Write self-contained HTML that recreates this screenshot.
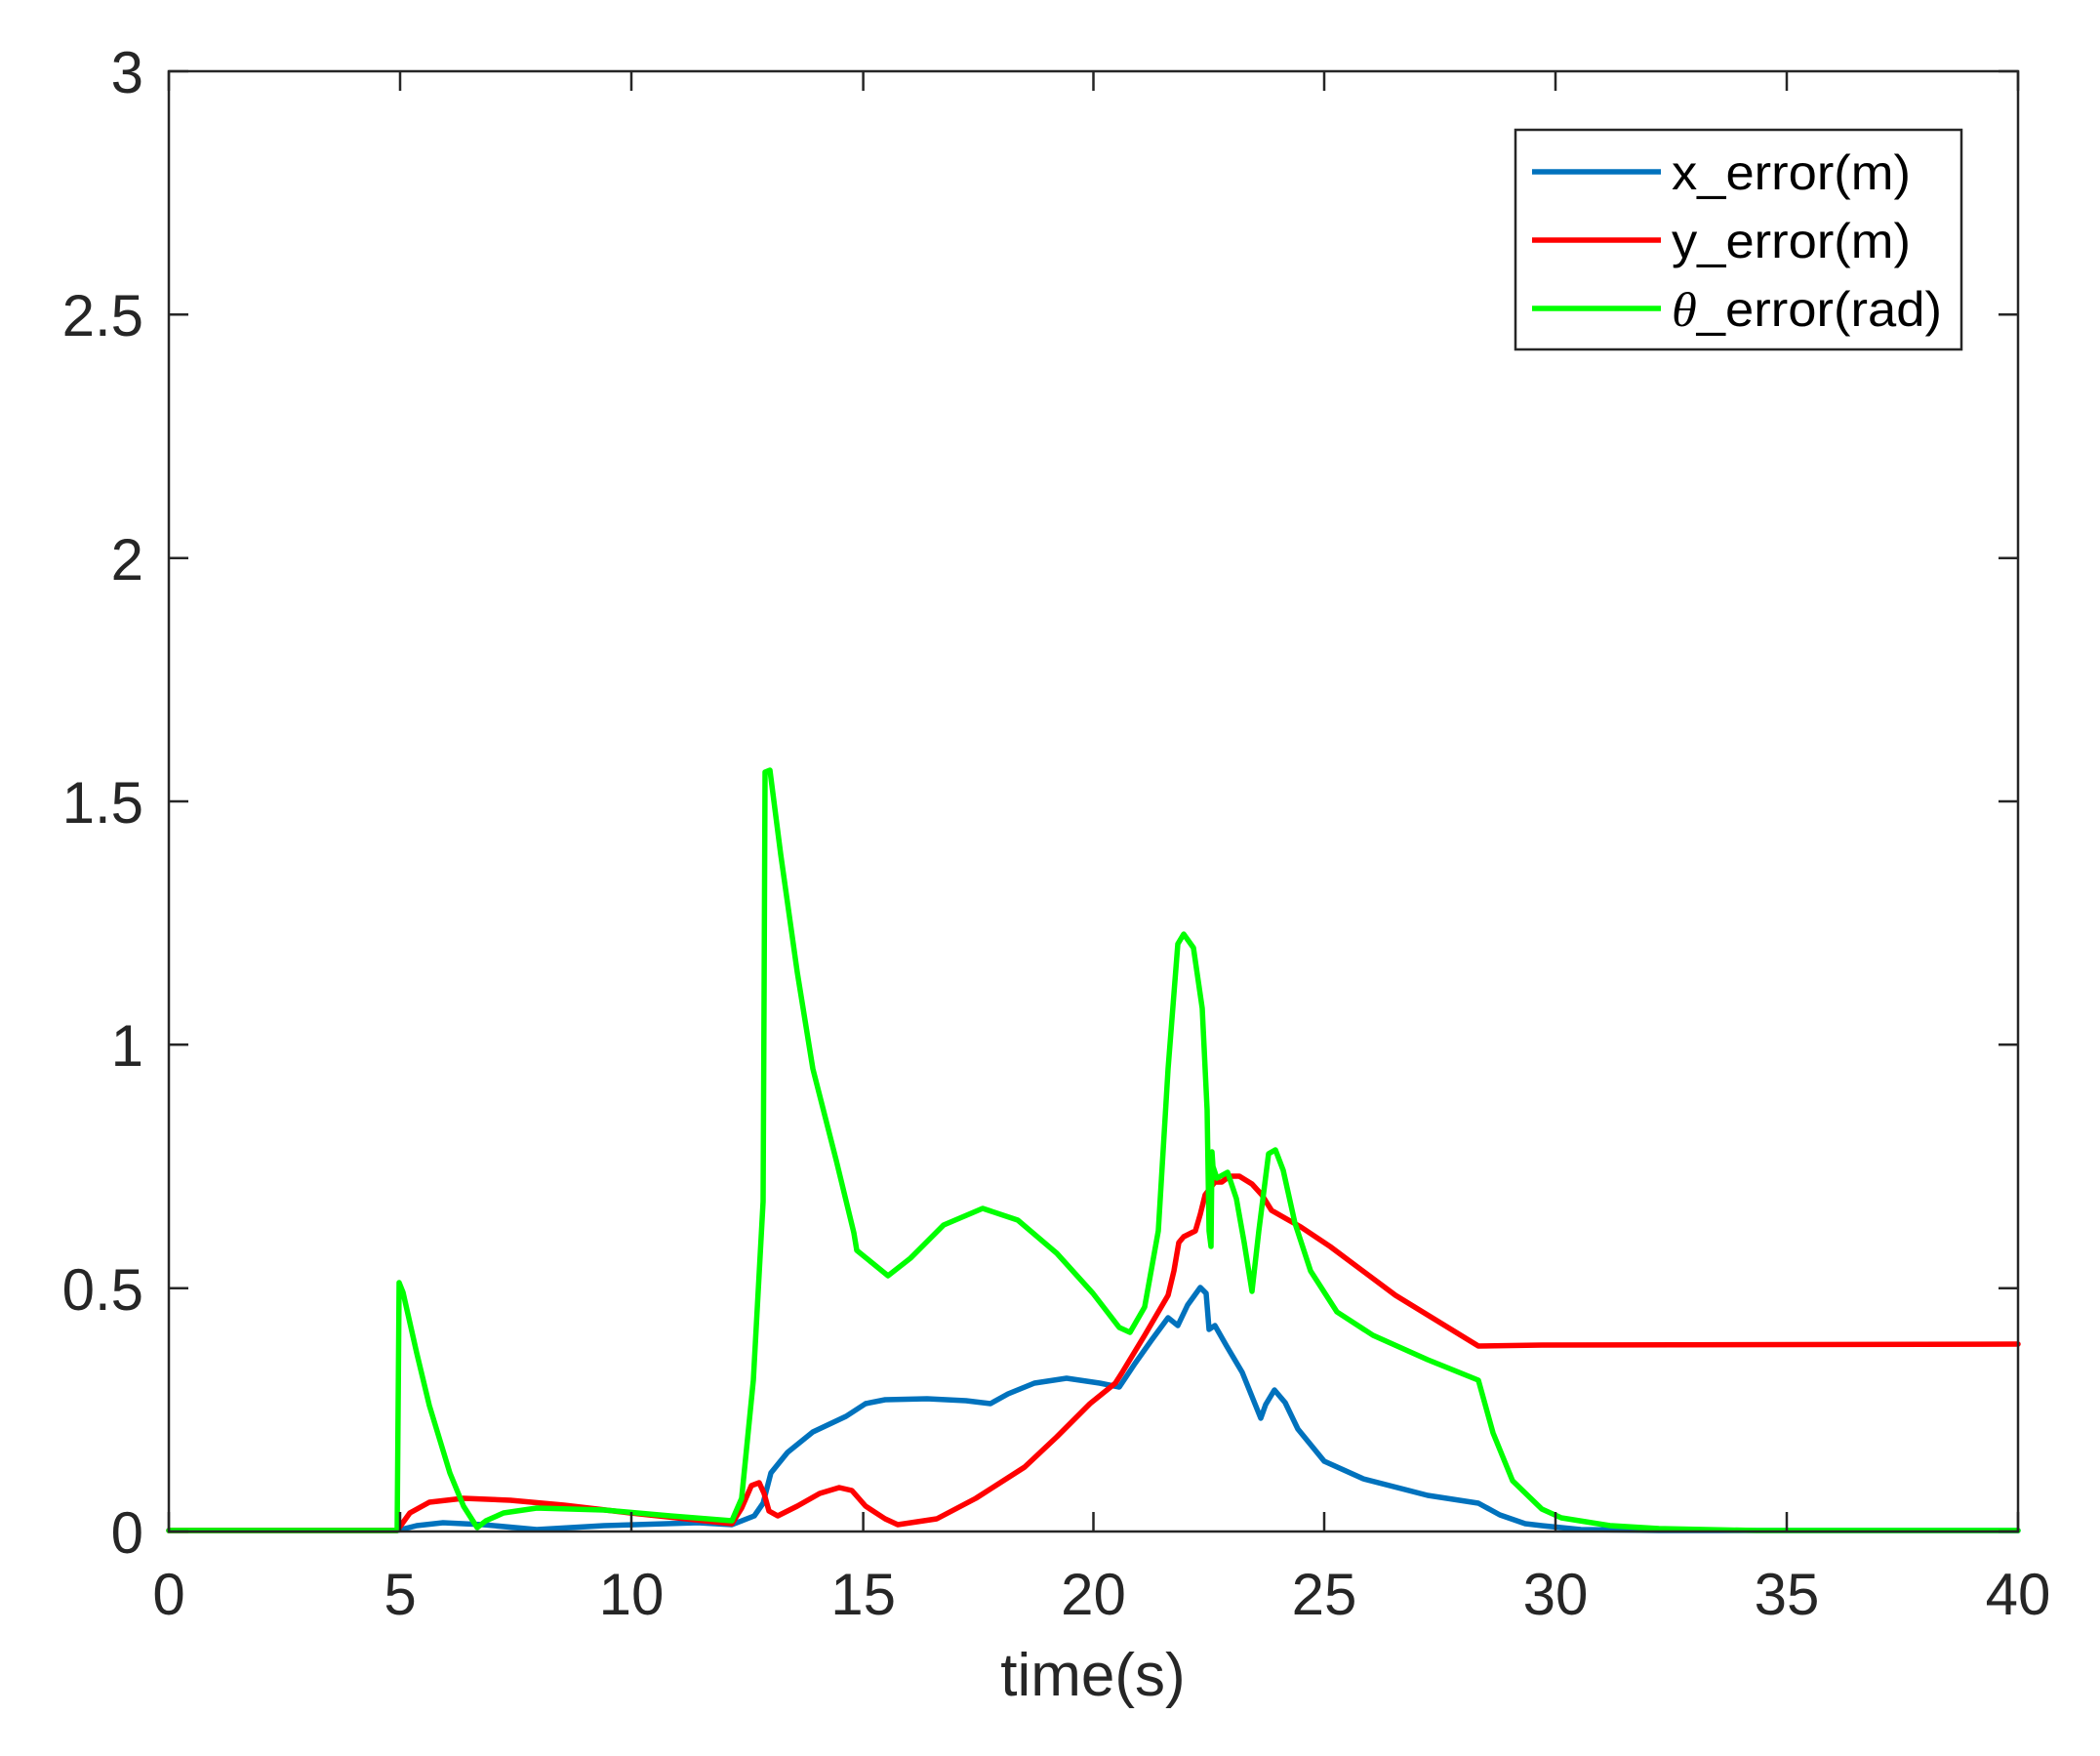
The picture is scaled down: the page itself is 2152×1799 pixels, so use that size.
<!DOCTYPE html>
<html><head><meta charset="utf-8"><style>
html,body{margin:0;padding:0;background:#fff;}
svg{display:block;}
text{font-family:"Liberation Sans",Arial,sans-serif;fill:#262626;}
</style></head><body>
<svg width="2152" height="1799" viewBox="0 0 2152 1799" xmlns="http://www.w3.org/2000/svg">
<rect x="0" y="0" width="2152" height="1799" fill="#fff"/>
<g fill="none" stroke-width="5.5" stroke-linejoin="round" stroke-linecap="round">
<polyline stroke="#0072BD" points="173,1568 407,1568 427,1563 454,1560 495,1562 550,1567 619,1563 715,1560 750,1562 773,1553 782,1540 790,1509 807,1488 833,1467 867,1451 887,1438 907,1434 950,1433 990,1435 1015,1438 1033,1428 1060,1417 1093,1412 1127,1417 1147,1421 1163,1397 1180,1373 1197,1350 1207,1358 1217,1337 1230,1319 1236,1325 1239,1362 1245,1358 1257,1379 1273,1406 1292,1453 1297,1439 1306,1424 1317,1437 1330,1464 1357,1497 1397,1515 1463,1532 1515,1540 1537,1552 1563,1561 1580,1563 1620,1567 1700,1568 2068,1568"/>
<polyline stroke="#FF0000" points="173,1568 407,1568 420,1550 440,1539 475,1535 523,1537 578,1542 646,1550 750,1561 760,1545 770,1522 778,1519 783,1530 788,1548 797,1553 817,1543 840,1530 860,1524 873,1527 887,1543 907,1556 920,1562 960,1556 1000,1535 1050,1503 1083,1472 1117,1438 1143,1417 1150,1406 1173,1368 1197,1327 1203,1302 1208,1273 1213,1267 1225,1261 1230,1244 1235,1224 1245,1211 1252,1211 1260,1205 1270,1205 1283,1213 1293,1224 1303,1240 1317,1248 1333,1257 1363,1277 1430,1327 1515,1379 1580,1378 2068,1377"/>
<polyline stroke="#00FF00" points="173,1568 407,1568 409,1314 413,1324 427,1386 440,1440 461,1509 475,1543 489,1565 498,1558 516,1550 550,1545 619,1547 687,1553 750,1558 760,1535 772,1414 782,1231 783,1022 784,791 789,789 800,875 817,996 833,1095 857,1189 875,1263 878,1281 910,1307 933,1289 967,1255 1007,1238 1043,1250 1083,1284 1120,1325 1147,1360 1158,1365 1173,1339 1187,1261 1197,1095 1207,967 1213,957 1223,971 1232,1033 1237,1137 1239,1261 1241,1277 1242,1180 1243,1195 1247,1207 1258,1201 1267,1228 1275,1273 1283,1323 1290,1261 1300,1182 1307,1178 1315,1199 1327,1253 1343,1302 1370,1344 1407,1368 1463,1393 1515,1414 1530,1468 1550,1517 1580,1546 1600,1555 1650,1563 1700,1566 1800,1568 2068,1568"/>
</g>
<g stroke="#262626" stroke-width="2.5" fill="none">
<rect x="173" y="73" width="1895" height="1496"/>
<path d="M173,1569v-20M410,1569v-20M647,1569v-20M884.6,1569v-20M1120.5,1569v-20M1357,1569v-20M1594,1569v-20M1831,1569v-20M2068,1569v-20
M173,73v20M410,73v20M647,73v20M884.6,73v20M1120.5,73v20M1357,73v20M1594,73v20M1831,73v20M2068,73v20
M173,1569h20M173,1319.7h20M173,1070.3h20M173,821h20M173,571.7h20M173,322.3h20M173,73h20
M2068,1569h-20M2068,1319.7h-20M2068,1070.3h-20M2068,821h-20M2068,571.7h-20M2068,322.3h-20M2068,73h-20"/>
</g>
<g font-size="60" text-anchor="end">
<text x="147" y="1591">0</text>
<text x="147" y="1342">0.5</text>
<text x="147" y="1092">1</text>
<text x="147" y="843">1.5</text>
<text x="147" y="594">2</text>
<text x="147" y="344">2.5</text>
<text x="147" y="95">3</text>
</g>
<g font-size="60" text-anchor="middle">
<text x="173" y="1654">0</text>
<text x="410" y="1654">5</text>
<text x="647" y="1654">10</text>
<text x="884.6" y="1654">15</text>
<text x="1120.5" y="1654">20</text>
<text x="1357" y="1654">25</text>
<text x="1594" y="1654">30</text>
<text x="1831" y="1654">35</text>
<text x="2068" y="1654">40</text>
</g>
<text x="1120" y="1737" font-size="62" text-anchor="middle">time(s)</text>
<rect x="1553" y="133" width="457" height="225" fill="#fff" stroke="#262626" stroke-width="2.5"/>
<g stroke-width="5.5">
<line x1="1570" y1="176" x2="1702" y2="176" stroke="#0072BD"/>
<line x1="1570" y1="246" x2="1702" y2="246" stroke="#FF0000"/>
<line x1="1570" y1="316" x2="1702" y2="316" stroke="#00FF00"/>
</g>
<g font-size="50">
<text x="1713" y="194" textLength="245" lengthAdjust="spacingAndGlyphs" style="fill:#000">x_error(m)</text>
<text x="1713" y="264" textLength="245" lengthAdjust="spacingAndGlyphs" style="fill:#000">y_error(m)</text>
<text x="1713" y="334" textLength="277" lengthAdjust="spacingAndGlyphs" style="fill:#000"><tspan font-family="Liberation Serif, serif" font-style="italic">θ</tspan>_error(rad)</text>
</g>
</svg>
</body></html>
